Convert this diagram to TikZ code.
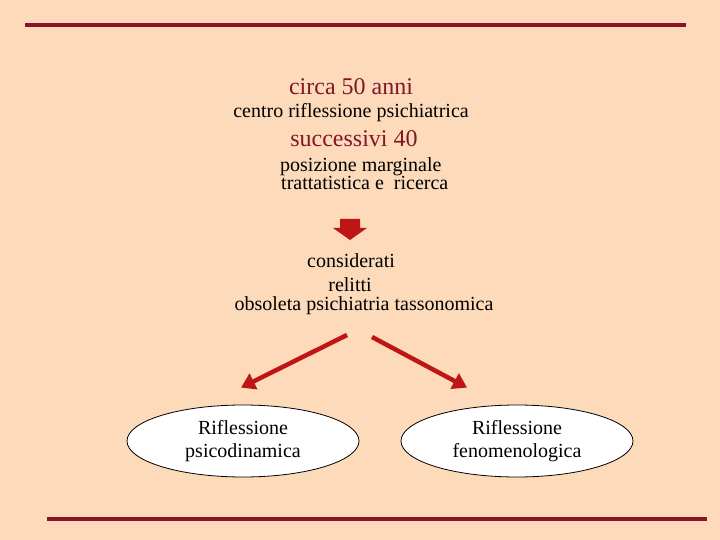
\documentclass[tikz,border=0pt]{standalone}
\usepackage{fontspec}
\setmainfont{Liberation Serif}
\usetikzlibrary{arrows.meta,shapes.geometric}

\definecolor{peach}{RGB}{252,218,186}
\definecolor{linered}{RGB}{140,18,40}
\definecolor{titlered}{RGB}{128,24,40}
\definecolor{arrowred}{RGB}{190,22,22}

\tikzset{
  title/.style = {draw = none, fill = none, inner sep = 0pt, anchor = base, text = titlered, font = \fontsize{24}{26}\selectfont},
  body/.style = {draw = none, fill = none, inner sep = 0pt, anchor = base, font = \fontsize{20}{22}\selectfont},
  bubble/.style = {ellipse, draw = black, fill = white, line width = 0.8pt, minimum width = 232pt, minimum height = 72pt, inner sep = 0pt, align = center, font = \fontsize{20}{23}\selectfont},
  branch/.style = {draw = arrowred, line width = 4.5pt, -{Triangle[length = 14pt, width = 17pt]}}
}

\begin{document}
\begin{tikzpicture}[x = 1pt, y = -1pt]

\fill[peach] (0,0) rectangle (720,540);
\useasboundingbox (0,0) rectangle (720,540);
\draw[linered, line width = 4pt] (25,25) -- (686,25)
      (47,519) -- (707,519);

      \node[title] (circa) at (351,94.5) {circa 50 anni};
      \node[body] (centro) at (351,117.5) {centro riflessione psichiatrica};
      \node[title] (succ) at (354,146.5) {successivi 40};
      \node[body, anchor = base west] (pos) at (280,172) {posizione marginale};
      \node[body, anchor = base west] (tratt) at (281,190) {trattatistica e\ \ ricerca};

\fill[arrowred] (340,219) -- (360,219) -- (360,228) -- (367,228) -- (350,240) -- (333,228) -- (340,228) -- cycle;

      \node[body] (cons) at (351,267) {considerati};
      \node[body] (rel) at (350,291) {relitti};
      \node[body] (obs) at (364,310) {obsoleta psichiatria tassonomica};

      \node[bubble] (psico) at (243,441) {Riflessione\\psicodinamica};
      \node[bubble] (feno) at (517,441) {Riflessione\\fenomenologica};

\coordinate (lstart) at (347,335);
\coordinate (rstart) at (372,337);
\draw[branch] (lstart) -- ([xshift = -2pt, yshift = 17pt]psico.north);
\draw[branch] (rstart) -- ([xshift = -50pt, yshift = 17pt]feno.north);
\end{tikzpicture}
\end{document}
